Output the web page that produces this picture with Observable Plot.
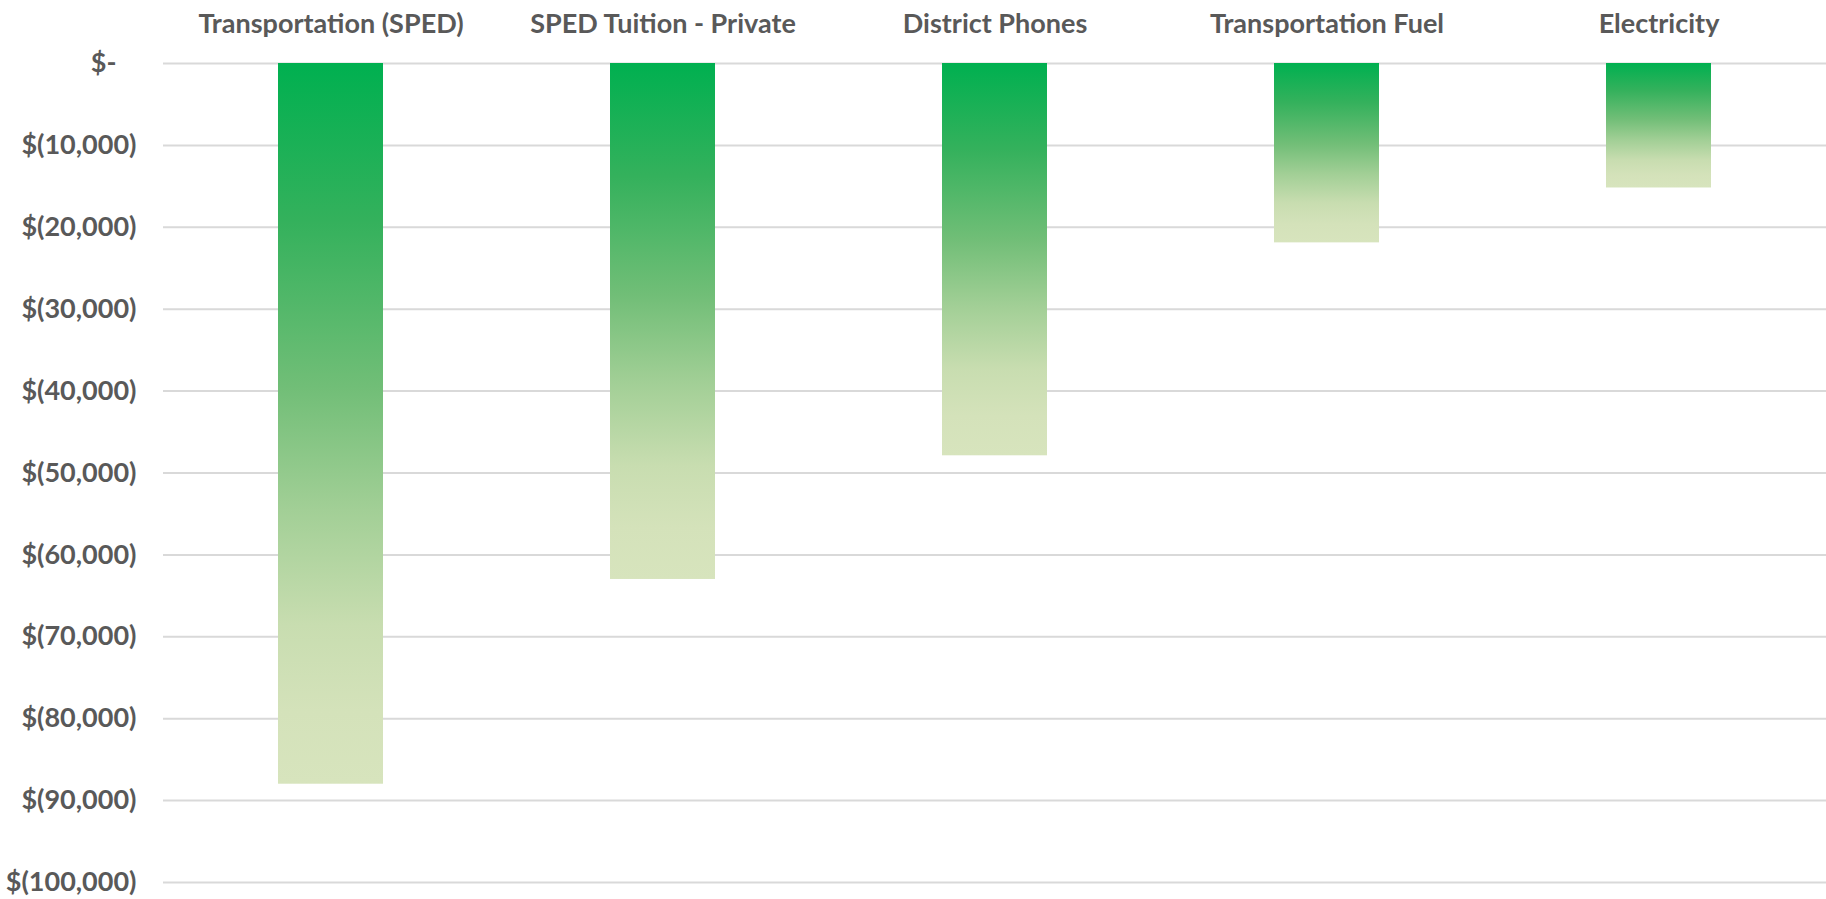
<!DOCTYPE html>
<html>
<head>
<meta charset="utf-8">
<script src="https://cdn.jsdelivr.net/npm/d3@7"></script>
<script src="https://cdn.jsdelivr.net/npm/@observablehq/plot@0.6"></script>
<style>
  html, body { margin: 0; padding: 0; background: #fff; }
  #chart svg { display: block; }
</style>
</head>
<body>
<div id="chart"></div>
<script>
const categories = ["Transportation (SPED)", "SPED Tuition - Private", "District Phones", "Transportation Fuel", "Electricity"];
const values = [-88000, -63000, -47900, -21900, -15200];
const yTicks = [0, -10000, -20000, -30000, -40000, -50000, -60000, -70000, -80000, -90000, -100000];
const yTickLabels = ["$-", "$(10,000)", "$(20,000)", "$(30,000)", "$(40,000)", "$(50,000)", "$(60,000)", "$(70,000)", "$(80,000)", "$(90,000)", "$(100,000)"];

const data = categories.map((c, i) => ({category: c, value: values[i]}));
const tickData = yTicks.map((t, i) => ({value: t, label: yTickLabels[i]}));

const FONT = "Lato, 'Open Sans', sans-serif";
const TEXT = "#595959";
const FS = 27;

const defs = () => {
  const g = d3.create("svg:defs");
  const lg = g.append("linearGradient").attr("id", "barGrad")
    .attr("x1", 0).attr("y1", 0).attr("x2", 0).attr("y2", 1);
  [[0, "#00B050"], [0.22, "#34B15C"], [0.45, "#71BE77"], [0.62, "#A2CF96"], [0.78, "#C8DDB0"], [0.9, "#D4E2BA"], [1, "#D7E4BD"]]
    .forEach(([o, c]) => lg.append("stop").attr("offset", o).attr("stop-color", c));
  return g.node();
};

const chart = Plot.plot({
  width: 1826,
  height: 899,
  marginTop: 63,
  marginBottom: 17,
  marginLeft: 163,
  marginRight: 0,
  style: {fontFamily: FONT, background: "#fff"},
  x: {domain: categories, paddingInner: 0.685, paddingOuter: 0.3425, axis: null},
  y: {domain: [-100000, 0], axis: null},
  marks: [
    defs,
    Plot.ruleY(yTicks, {stroke: "#D9D9D9", strokeWidth: 2}),
    Plot.barY(data, {x: "category", y1: 0, y2: "value", fill: "url(#barGrad)"}),
    Plot.axisX({anchor: "top", tickSize: 0, tickPadding: 31, fontSize: FS, fontWeight: "bold", fill: TEXT, label: null}),
    Plot.text(tickData.filter(d => d.value !== 0), {
      y: "value", text: "label", frameAnchor: "left", textAnchor: "end",
      dx: -27, fontSize: FS, fontWeight: "bold", fill: TEXT
    }),
    Plot.text(tickData.filter(d => d.value === 0), {
      y: "value", text: "label", frameAnchor: "left", textAnchor: "end",
      dx: -47, fontSize: FS, fontWeight: "bold", fill: TEXT
    })
  ]
});

document.getElementById("chart").appendChild(chart);
</script>
</body>
</html>
